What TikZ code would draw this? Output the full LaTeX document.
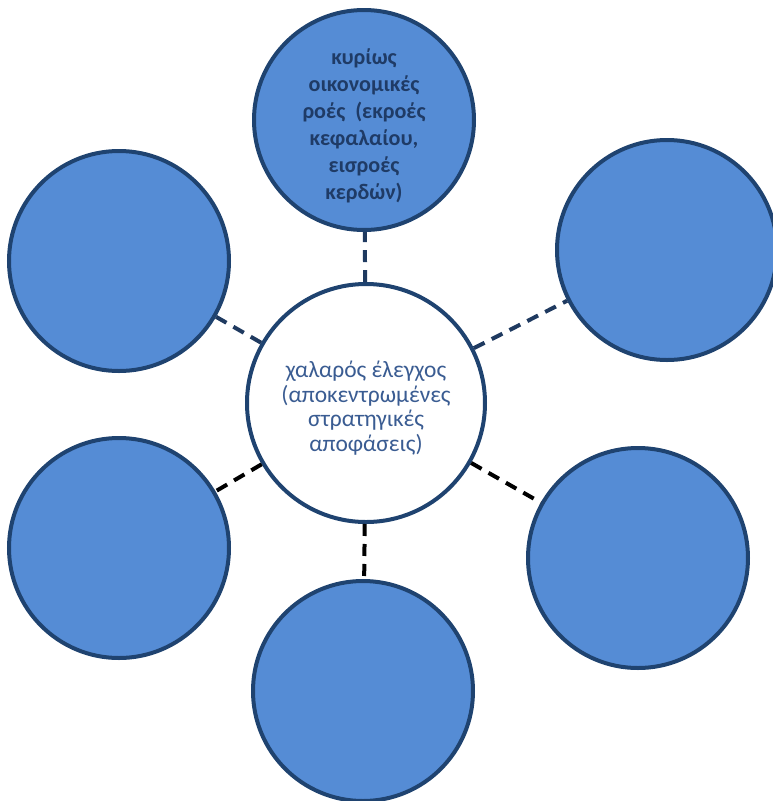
\documentclass[tikz,border=0pt]{standalone}
\usepackage{fontspec}
\setmainfont{Carlito}
\definecolor{discfill}{HTML}{558CD5}
\definecolor{discedge}{HTML}{1F4370}
\definecolor{hubtext}{HTML}{3A5C92}
\definecolor{toptext}{HTML}{1F3B66}
\definecolor{linkblue}{HTML}{1F3A60}
\tikzset{
  disc/.style={circle, draw=discedge, fill=discfill, line width=3pt,
    minimum size=165pt, inner sep=0pt},
  hubdisc/.style={circle, draw=discedge, fill=white, line width=3pt,
    minimum size=178.5pt, inner sep=0pt},
  caption/.style={align=center, inner sep=0pt},
  linkdash/.style={line width=3pt, dash pattern=on 9pt off 6pt},
  uplink/.style={linkdash, draw=linkblue},
  lowlink/.style={linkdash, draw=black},
}
\begin{document}
\begin{tikzpicture}[x=0.75pt, y=-0.75pt]
  \useasboundingbox (0,0) rectangle (773,801);
  \clip (0,0) rectangle (773,801);
  \fill[white] (0,0) rectangle (773,801);

  % hub disc and its caption
  \node[hubdisc] (hub) at (366,403) {};
  \node[caption, text=hubtext, font=\fontsize{17.6}{18.5}\selectfont]
    (hubcap) at (366,408)
    {χαλαρός έλεγχος\\(αποκεντρωμένες\\στρατηγικές\\αποφάσεις)};

  % top disc and its caption
  \node[disc] (top) at (364,120) {};
  \node[caption, text=toptext, font=\bfseries\fontsize{16.6}{20.25}\selectfont]
    (topcap) at (364,126)
    {κυρίως\\οικονομικές\\ροές\ \ (εκροές\\κεφαλαίου,\\εισροές\\κερδών)};

  % empty satellite discs
  \node[disc] (ul)  at (119,261) {};
  \node[disc] (ur)  at (667,250) {};
  \node[disc] (ll)  at (119,548) {};
  \node[disc] (lr)  at (638,558) {};
  \node[disc] (bot) at (363,691) {};

  % dashed links from the hub
  \draw[uplink]  (hub) -- (top);
  \draw[uplink]  (hub) -- (ul);
  \draw[uplink]  (hub) -- (ur);
  \draw[lowlink] (hub) -- (ll);
  \draw[lowlink] (hub) -- (lr);
  \draw[lowlink] (hub) -- (bot);
\end{tikzpicture}
\end{document}
